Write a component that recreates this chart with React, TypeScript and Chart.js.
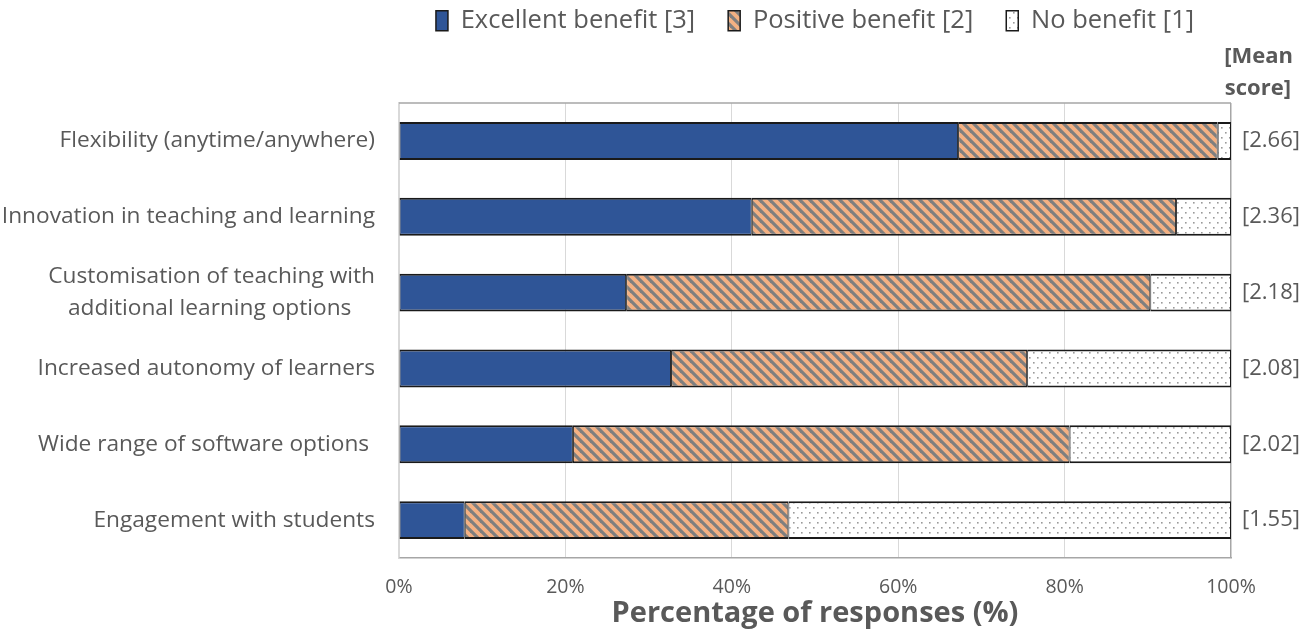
import React, { useEffect, useRef } from 'react';
import { Chart, registerables } from 'chart.js';

Chart.register(...registerables);

const categories: (string | string[])[] = [
  'Flexibility (anytime/anywhere)',
  'Innovation in teaching and learning',
  ['Customisation of teaching with', 'additional learning options    '],
  'Increased autonomy of learners',
  'Wide range of software options ',
  'Engagement with students',
];
const seriesNames = ['Excellent benefit [3]', 'Positive benefit [2]', 'No benefit [1]'];
const excellent = [67.2, 42.4, 27.3, 32.7, 20.9, 7.9];
const positive = [31.2, 51.0, 63.0, 42.8, 59.7, 38.9];
const noBenefit = [1.6, 6.6, 9.7, 24.5, 19.4, 53.2];
const meanScores = ['[2.66]', '[2.36]', '[2.18]', '[2.08]', '[2.02]', '[1.55]'];
const meanHeader = ['[Mean', 'score]'];
const xAxisTitle = 'Percentage of responses (%)';

const FONT = '"Open Sans", Lato, sans-serif';
const TEXT = '#595959';

function stripePattern(): CanvasPattern | string {
  const c = document.createElement('canvas');
  c.width = 10;
  c.height = 10;
  const g = c.getContext('2d');
  if (!g) return '#F4B183';
  g.fillStyle = '#F4B183';
  g.fillRect(0, 0, 10, 10);
  g.strokeStyle = '#7F7F7F';
  g.lineWidth = 3.2;
  for (let k = -1; k <= 1; k++) {
    g.beginPath();
    g.moveTo(k * 10 - 2, -2);
    g.lineTo(k * 10 + 12, 12);
    g.stroke();
  }
  return g.createPattern(c, 'repeat') || '#F4B183';
}

function dotPattern(): CanvasPattern | string {
  const c = document.createElement('canvas');
  c.width = 8;
  c.height = 10;
  const g = c.getContext('2d');
  if (!g) return '#ffffff';
  g.fillStyle = '#ffffff';
  g.fillRect(0, 0, 8, 10);
  g.fillStyle = '#9A9A9A';
  g.fillRect(1, 2, 1.6, 1.6);
  g.fillRect(5, 7, 1.6, 1.6);
  return g.createPattern(c, 'repeat') || '#ffffff';
}

const framePlugin = {
  id: 'frame',
  beforeDatasetsDraw(chart: any) {
    const { ctx, chartArea } = chart;
    ctx.save();
    ctx.strokeStyle = '#A6A6A6';
    ctx.lineWidth = 1.5;
    ctx.beginPath();
    ctx.moveTo(chartArea.left, chartArea.top);
    ctx.lineTo(chartArea.right, chartArea.top);
    ctx.stroke();
    ctx.restore();
  },
  afterDraw(chart: any) {
    const { ctx, chartArea } = chart;
    ctx.save();
    ctx.fillStyle = TEXT;
    ctx.font = 'bold 22px ' + FONT;
    ctx.textAlign = 'right';
    ctx.textBaseline = 'middle';
    ctx.fillText(meanHeader[0], chart.width - 7, chartArea.top - 46);
    ctx.fillText(meanHeader[1], chart.width - 9, chartArea.top - 14);
    ctx.restore();
  },
};

const legendPlugin = {
  id: 'legendTweak',
  afterInit(chart: any) {
    const lg = chart.legend;
    if (!lg || lg.__tweaked) return;
    lg.__tweaked = true;
    const origFit = lg.fit;
    lg.fit = function () {
      origFit.call(this);
      this.height = 103;
    };
    const origDraw = lg.draw;
    lg.draw = function () {
      const c = this.ctx;
      c.save();
      c.translate(0, -25);
      origDraw.call(this);
      c.restore();
    };
  },
};

export default function App() {
  const ref = useRef<HTMLCanvasElement | null>(null);

  useEffect(() => {
    if (!ref.current) return;
    const stripes = stripePattern();
    const dots = dotPattern();
    const border = { top: 2, bottom: 2, left: 1, right: 1 };
    const chart = new Chart(ref.current, {
      type: 'bar',
      data: {
        labels: categories,
        datasets: [
          {
            label: seriesNames[0],
            data: excellent,
            backgroundColor: '#2F5597',
            borderColor: '#1a1a1a',
            borderWidth: border,
            borderSkipped: false,
          },
          {
            label: seriesNames[1],
            data: positive,
            backgroundColor: stripes,
            borderColor: '#1a1a1a',
            borderWidth: border,
            borderSkipped: false,
          },
          {
            label: seriesNames[2],
            data: noBenefit,
            backgroundColor: dots,
            borderColor: '#1a1a1a',
            borderWidth: border,
            borderSkipped: false,
          },
        ] as any,
      },
      options: {
        indexAxis: 'y',
        animation: false,
        responsive: true,
        maintainAspectRatio: false,
        layout: { padding: 0 },
        datasets: { bar: { barPercentage: 0.5, categoryPercentage: 1 } } as any,
        plugins: {
          tooltip: { enabled: false },
          legend: {
            position: 'top',
            fullSize: false,
            labels: {
              boxWidth: 12,
              boxHeight: 20,
              padding: 33,
              color: TEXT,
              font: { family: FONT, size: 25.5 },
            },
          },
        },
        scales: {
          x: {
            stacked: true,
            min: 0,
            max: 100,
            ticks: {
              stepSize: 20,
              padding: 18,
              color: TEXT,
              font: { family: FONT, size: 19.5 },
              callback: (v: any) => v + '%',
            },
            grid: {
              drawTicks: false,
              color: (c: any) => (c.tick && c.tick.value === 100 ? '#A6A6A6' : '#D9D9D9'),
              lineWidth: (c: any) => (c.tick && c.tick.value === 100 ? 1.5 : 1),
            },
            border: { display: true, color: '#A6A6A6', width: 1.5 },
            title: {
              display: true,
              text: xAxisTitle,
              color: TEXT,
              font: { family: FONT, size: 29, weight: 'bold' },
              padding: { top: 0, bottom: 5 },
            },
            afterFit: (s: any) => {
              s.height = 78;
            },
          },
          y: {
            stacked: true,
            ticks: {
              padding: 24,
              color: TEXT,
              font: { family: FONT, size: 22.7, lineHeight: 1.4 },
            },
            grid: { display: false, drawTicks: false },
            border: { display: true, color: '#D9D9D9', width: 1.5 },
            afterFit: (s: any) => {
              s.width = 399;
            },
          },
          y2: {
            type: 'category',
            axis: 'y',
            position: 'right',
            labels: meanScores,
            offset: true,
            ticks: {
              padding: 11,
              color: TEXT,
              font: { family: FONT, size: 22 },
            },
            grid: { display: false, drawTicks: false },
            border: { display: false },
            afterFit: (s: any) => {
              s.width = 69;
            },
          } as any,
        },
      },
      plugins: [framePlugin, legendPlugin],
    } as any);
    return () => chart.destroy();
  }, []);

  return (
    <div style={{ position: 'absolute', left: 0, top: 0, width: 1300, height: 636, background: '#ffffff' }}>
      <canvas ref={ref} />
    </div>
  );
}
